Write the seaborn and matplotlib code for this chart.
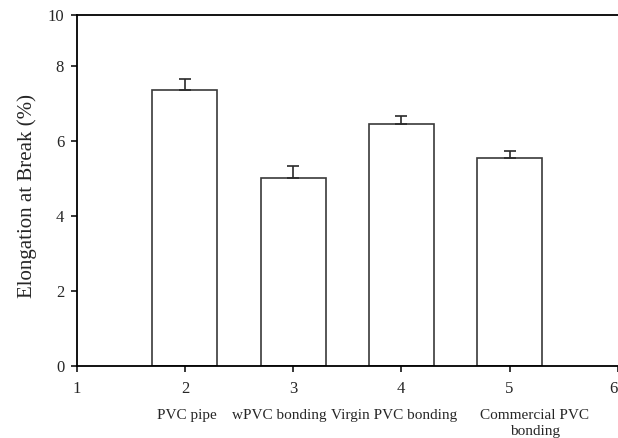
import matplotlib
matplotlib.use("Agg")
import matplotlib.pyplot as plt
import matplotlib.transforms as mtransforms
import seaborn as sns
import pandas as pd
import numpy as np

# Data
positions = [2, 3, 4, 5]
categories = ["PVC pipe", "wPVC bonding", "Virgin PVC bonding", "Commercial PVC\nbonding"]
elongation = [7.35, 5.0, 6.45, 5.55]
errors = [0.29, 0.33, 0.21, 0.19]
x_ticks = [1, 2, 3, 4, 5, 6]
y_ticks = [0, 2, 4, 6, 8, 9.35]
y_tick_labels = ["0", "2", "4", "6", "8", "10"]

# Layout: horizontal offsets of the category captions (as placed in the original)
label_shift = [0.02, -0.13, -0.07, 0.235]

sns.set_style("ticks")
plt.rcParams["font.family"] = ["Liberation Serif", "DejaVu Serif"]
plt.rcParams["font.size"] = 11

fig = plt.figure(figsize=(6.18, 4.38), dpi=100)
ax = fig.add_axes([76.7 / 618, 1 - 366 / 438, (617.7 - 76.7) / 618, (366 - 15.3) / 438])

df = pd.DataFrame({"pos": positions, "val": elongation})
sns.barplot(data=df, x="pos", y="val", native_scale=True, width=0.6,
            color="white", edgecolor="#3a3a3a", linewidth=1.2, errorbar=None, ax=ax)
for p in ax.patches:
    p.set_facecolor("white")

ax.errorbar(positions, elongation, yerr=[np.zeros(len(errors)), errors], fmt="none",
            ecolor="#2a2a2a", elinewidth=1.2, capsize=4.3, capthick=1.2)

ax.set_xlim(1, 6)
ax.set_ylim(0, 9.35)
ax.set_xticks(x_ticks)
xt = ax.set_xticklabels([str(t) for t in x_ticks])
xt[-1].set_horizontalalignment("right")
ax.set_yticks(y_ticks)
ax.set_yticklabels(y_tick_labels)
ax.set_xlabel("")
ax.set_ylabel("Elongation at Break (%)", fontsize=15, va="center")
ax.yaxis.set_label_coords(-0.092, 0.485)

for s in ["left", "bottom", "top"]:
    ax.spines[s].set_visible(True)
    ax.spines[s].set_color("black")
    ax.spines[s].set_linewidth(1.3)
ax.spines["right"].set_visible(False)
ax.tick_params(axis="both", direction="out", length=4, width=1.1, color="black",
               labelsize=12)
ax.tick_params(axis="y", pad=5)
ax.tick_params(axis="x", pad=7)
ax.tick_params(top=False, right=False)

trans = mtransforms.blended_transform_factory(ax.transData, ax.transAxes)
for pos, shift, lab in zip(positions, label_shift, categories):
    ax.text(pos + shift, -0.122, lab, transform=trans, ha="center", va="top",
            fontsize=11, multialignment="center", linespacing=1.35)

fig.savefig("out.png", dpi=100)
